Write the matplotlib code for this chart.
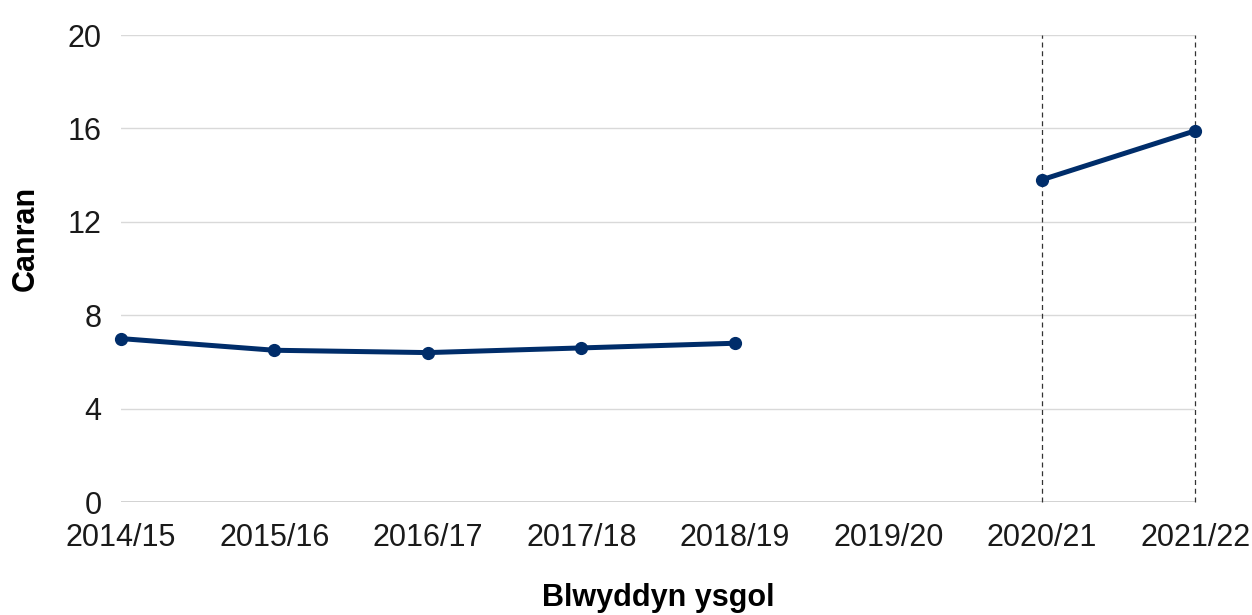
import matplotlib
matplotlib.use("Agg")
import matplotlib.pyplot as plt
import numpy as np

plt.rcParams['font.family'] = ['Liberation Sans', 'DejaVu Sans']

years = ['2014/15', '2015/16', '2016/17', '2017/18', '2018/19', '2019/20', '2020/21', '2021/22']
canran = [7.0, 6.5, 6.4, 6.6, 6.8, np.nan, 13.8, 15.9]
dashed_years = ['2020/21', '2021/22']

fig = plt.figure(figsize=(12.52, 6.15), dpi=100)
ax = fig.add_axes([0.0966, 0.1837, 0.858, 0.7593])

x = np.arange(len(years))
for yr in dashed_years:
    ax.axvline(years.index(yr), color='#333333', linestyle=(0, (4, 3)), linewidth=0.9,
               zorder=2, clip_on=False)

ax.plot(x, canran, color='#002D6A', linewidth=3.6, marker='o', markersize=8.5, zorder=3, clip_on=False)
ax.axhline(0, color='#cccccc', linewidth=1.2, zorder=1)

ax.set_xlim(0, len(years) - 1)
ax.set_ylim(0, 20)
ax.set_yticks(np.arange(0, 21, 4))
ax.set_xticks(x)
ax.set_xticklabels(years)
ax.yaxis.grid(True, color='#d9d9d9', linewidth=1)
ax.set_axisbelow(True)
for s in ax.spines.values():
    s.set_visible(False)
ax.tick_params(axis='both', length=0, labelsize=22, colors='#1a1a1a')
ax.tick_params(axis='y', pad=14)
ax.tick_params(axis='x', pad=15)

ax.set_ylabel('Canran', fontsize=22, fontweight='bold')
ax.yaxis.set_label_coords(-0.075, 0.565)
ax.set_xlabel('Blwyddyn ysgol', fontsize=22, fontweight='bold', labelpad=22)

fig.savefig('out.png', dpi=100)
